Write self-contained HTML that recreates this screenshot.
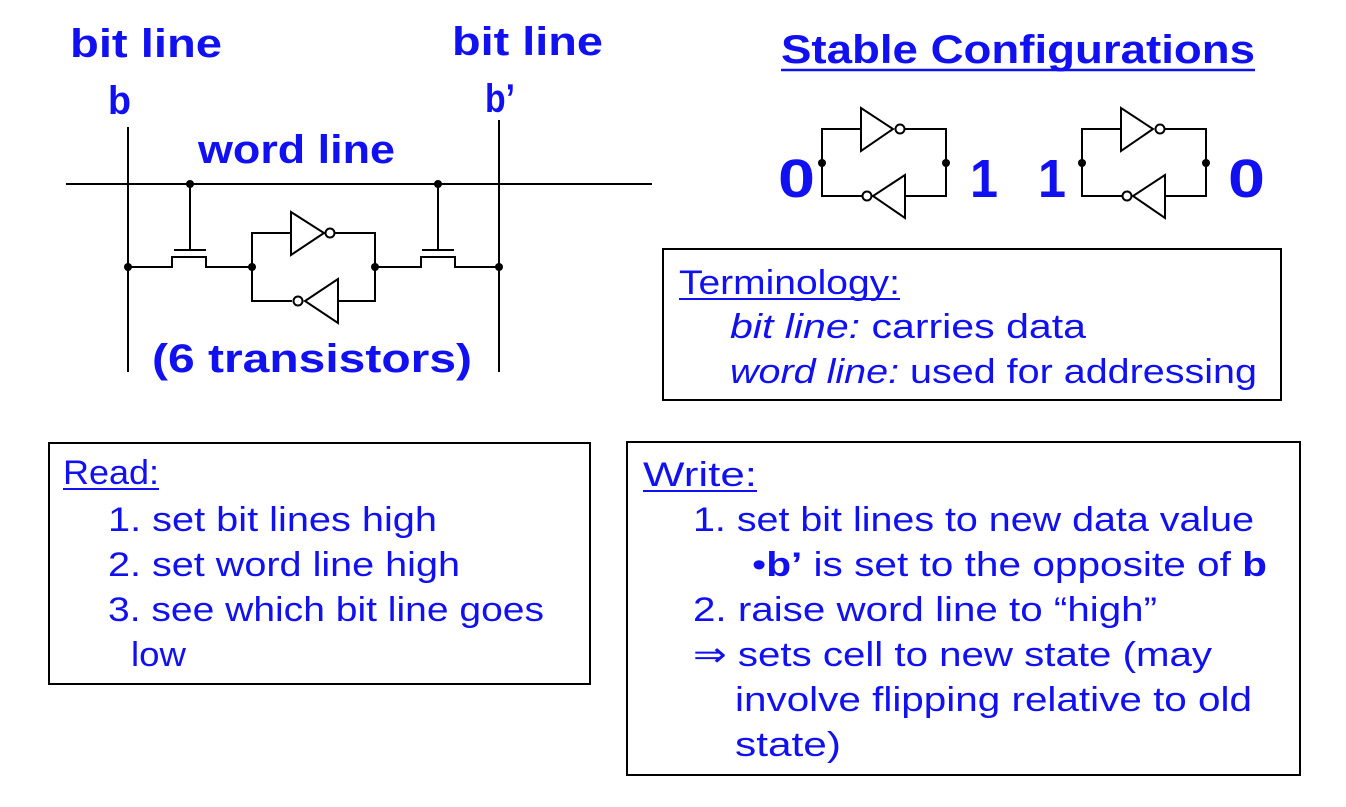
<!DOCTYPE html>
<html><head><meta charset="utf-8"><style>
html,body{margin:0;padding:0;background:#fff;}
svg{display:block;}
text{font-family:"Liberation Sans",sans-serif;fill:#1010f0;}
.b{font-weight:bold;font-size:40px;}
.n{font-size:34px;}
</style></head><body>
<svg width="1346" height="807" viewBox="0 0 1346 807" xmlns="http://www.w3.org/2000/svg">
<g stroke="#000" stroke-width="2" fill="none">
<line x1="66" y1="184" x2="652" y2="184"/>
<line x1="128" y1="127" x2="128" y2="372"/>
<line x1="499" y1="120" x2="499" y2="372"/>
<line x1="190" y1="184" x2="190" y2="250"/>
<line x1="174" y1="250" x2="206" y2="250"/>
<polyline points="128,267 172,267 172,257 206,257 206,267 252,267"/>
<line x1="438" y1="184" x2="438" y2="250"/>
<line x1="422" y1="250" x2="454" y2="250"/>
<polyline points="375,267 421,267 421,257 455,257 455,267 499,267"/>
<polyline points="291,233 252,233 252,301 292,301"/>
<polyline points="334,233 375,233 375,301 338,301"/>
<polygon points="291,212 291,255 324,233"/>
<circle cx="330" cy="233" r="4.5"/>
<polygon points="338,279 338,323 305,301"/>
<circle cx="298" cy="301" r="4.5"/>
<g>
<polyline points="861,129 822,129 822,196 862,196"/>
<polyline points="905,129 946,129 946,196 905,196"/>
<polygon points="861,108 861,151 893,129"/>
<circle cx="900" cy="129" r="4.5"/>
<polygon points="905,175 905,218 873,196"/>
<circle cx="867" cy="196" r="4.5"/>
</g>
<g transform="translate(260,0)">
<polyline points="861,129 822,129 822,196 862,196"/>
<polyline points="905,129 946,129 946,196 905,196"/>
<polygon points="861,108 861,151 893,129"/>
<circle cx="900" cy="129" r="4.5"/>
<polygon points="905,175 905,218 873,196"/>
<circle cx="867" cy="196" r="4.5"/>
</g>
<rect x="663" y="249" width="618" height="151"/>
<rect x="49" y="443" width="541" height="241"/>
<rect x="627" y="442" width="673" height="333"/>
</g>
<g fill="#000">
<circle cx="190" cy="184" r="4"/><circle cx="438" cy="184" r="4"/>
<circle cx="128" cy="267" r="4"/><circle cx="252" cy="267" r="4"/>
<circle cx="375" cy="267" r="4"/><circle cx="499" cy="267" r="4"/>
<circle cx="822" cy="163" r="4"/><circle cx="946" cy="163" r="4"/>
<circle cx="1082" cy="163" r="4"/><circle cx="1206" cy="163" r="4"/>
</g>
<text class="b" x="70" y="57" textLength="152" lengthAdjust="spacingAndGlyphs">bit line</text>
<text class="b" x="108" y="114" textLength="23" lengthAdjust="spacingAndGlyphs">b</text>
<text class="b" x="452" y="55" textLength="151" lengthAdjust="spacingAndGlyphs">bit line</text>
<text class="b" x="485" y="112" textLength="30" lengthAdjust="spacingAndGlyphs">b’</text>
<text class="b" x="198" y="163" textLength="197" lengthAdjust="spacingAndGlyphs">word line</text>
<text class="b" x="152" y="372" textLength="320" lengthAdjust="spacingAndGlyphs">(6 transistors)</text>
<text class="b" x="781" y="63" textLength="474" lengthAdjust="spacingAndGlyphs">Stable Configurations</text>
<line x1="781" y1="70" x2="1255" y2="70" stroke="#1010f0" stroke-width="2.5"/>
<text class="b" style="font-size:54px" x="778" y="197" textLength="37" lengthAdjust="spacingAndGlyphs">0</text>
<text class="b" style="font-size:54px" x="970" y="197" textLength="28" lengthAdjust="spacingAndGlyphs">1</text>
<text class="b" style="font-size:54px" x="1038" y="197" textLength="28" lengthAdjust="spacingAndGlyphs">1</text>
<text class="b" style="font-size:54px" x="1228" y="197" textLength="37" lengthAdjust="spacingAndGlyphs">0</text>
<text class="n" x="679" y="294" textLength="221" lengthAdjust="spacingAndGlyphs">Terminology:</text>
<line x1="679" y1="299" x2="900" y2="299" stroke="#1010f0" stroke-width="2"/>
<text class="n" x="730" y="338" textLength="356" lengthAdjust="spacingAndGlyphs"><tspan font-style="italic">bit line:</tspan> carries data</text>
<text class="n" x="730" y="383" textLength="527" lengthAdjust="spacingAndGlyphs"><tspan font-style="italic">word line:</tspan> used for addressing</text>
<text class="n" x="63" y="484" textLength="96" lengthAdjust="spacingAndGlyphs">Read:</text>
<line x1="63" y1="489" x2="159" y2="489" stroke="#1010f0" stroke-width="2"/>
<text class="n" x="108" y="531" textLength="329" lengthAdjust="spacingAndGlyphs">1. set bit lines high</text>
<text class="n" x="108" y="576" textLength="352" lengthAdjust="spacingAndGlyphs">2. set word line high</text>
<text class="n" x="108" y="621" textLength="436" lengthAdjust="spacingAndGlyphs">3. see which bit line goes</text>
<text class="n" x="131" y="666" textLength="55" lengthAdjust="spacingAndGlyphs">low</text>
<text class="n" x="643" y="486" textLength="114" lengthAdjust="spacingAndGlyphs">Write:</text>
<line x1="643" y1="491" x2="757" y2="491" stroke="#1010f0" stroke-width="2"/>
<text class="n" x="693" y="531" textLength="561" lengthAdjust="spacingAndGlyphs">1. set bit lines to new data value</text>
<text class="n" x="752" y="576" textLength="515" lengthAdjust="spacingAndGlyphs">•<tspan font-weight="bold">b’</tspan> is set to the opposite of <tspan font-weight="bold">b</tspan></text>
<text class="n" x="693" y="621" textLength="464" lengthAdjust="spacingAndGlyphs">2. raise word line to “high”</text>
<text class="n" x="693" y="666" textLength="519" lengthAdjust="spacingAndGlyphs">⇒ sets cell to new state (may</text>
<text class="n" x="735" y="711" textLength="517" lengthAdjust="spacingAndGlyphs">involve flipping relative to old</text>
<text class="n" x="735" y="756" textLength="106" lengthAdjust="spacingAndGlyphs">state)</text>
</svg>
</body></html>
